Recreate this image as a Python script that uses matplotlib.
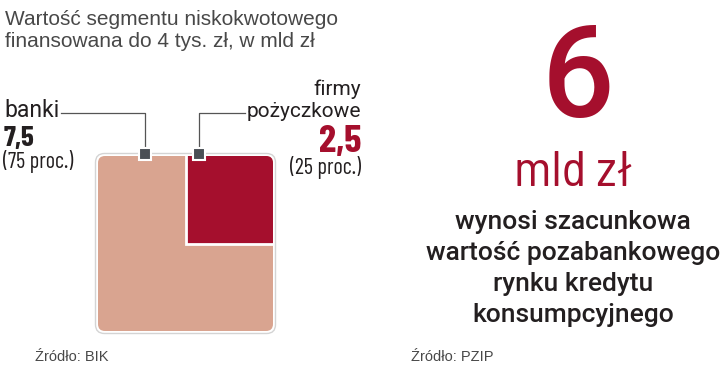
import numpy as np
import matplotlib.pyplot as plt
from matplotlib.patches import FancyBboxPatch, Rectangle
from matplotlib import font_manager

# data
labels = ['banki', 'firmy', 'pożyczkowe']
values = [7.5, 2.5]
shares = ['(75 proc.)', '(25 proc.)']
big_number = '6'
big_unit = 'mld zł'
big_caption = ['wynosi szacunkowa', 'wartość pozabankowego', 'rynku kredytu', 'konsumpcyjnego']
title = ['Wartość segmentu niskokwotowego', 'finansowana do 4 tys. zł, w mld zł']
sources = ['Źródło: BIK', 'Źródło: PZIP']

light = '#D9A490'
dark = '#A50F2D'
txt = '#231F20'
grey = '#4A4F55'

names = set(f.name for f in font_manager.fontManager.ttflist)


def pick(*cands):
    for c in cands:
        if c in names:
            return c
    return 'DejaVu Sans'


cond = pick('Barlow Condensed', 'Roboto Condensed', 'Archivo Narrow', 'Asap Condensed', 'Liberation Sans Narrow')
semi = pick('Barlow Semi Condensed', 'Barlow Condensed', 'Roboto')
plain = pick('Liberation Sans', 'DejaVu Sans')
sans = pick('Roboto', 'DejaVu Sans')

fig = plt.figure(figsize=(7.2, 3.82), dpi=100)
ax = fig.add_axes([0, 0, 1, 1])
ax.set_xlim(0, 720)
ax.set_ylim(382, 0)
ax.axis('off')

# square: area = total, inner square area = firms share
total = sum(values)
x0, y0, side = 98, 156, 175
small = side * np.sqrt(values[1] / total)

ax.add_patch(FancyBboxPatch((x0 - 2.5, y0 - 2.5), side + 5, side + 5,
                            boxstyle='round,pad=0,rounding_size=9',
                            fc='white', ec='#d4d4d4', lw=1, zorder=1))
outer = FancyBboxPatch((x0, y0), side, side, boxstyle='round,pad=0,rounding_size=7',
                       fc=light, ec='none', zorder=2)
ax.add_patch(outer)
inner = Rectangle((x0 + side - small, y0 - 5), small + 5, small + 5,
                  fc=dark, ec='white', lw=2, zorder=3)
ax.add_patch(inner)
inner.set_clip_path(outer)

# leader lines
ax.plot([145, 145, 61], [154, 113, 113], color='#555555', lw=0.9, zorder=5)
ax.plot([199, 199, 245], [154, 113, 113], color='#555555', lw=0.9, zorder=5)
for mx in [145, 199]:
    ax.add_patch(Rectangle((mx - 6, 148), 12, 12, fc=grey, ec='white', lw=1.5, zorder=6))

# title
ax.text(5, 25, title[0], ha='left', va='baseline', fontsize=15, family=plain, color='#484848')
ax.text(5, 47, title[1], ha='left', va='baseline', fontsize=15, family=plain, color='#484848')

# left labels
ax.text(4, 117, labels[0], ha='left', va='baseline', fontsize=16.5, family=sans, color=txt)
ax.text(4, 146, str(values[0]).replace('.', ','), ha='left', va='baseline', fontsize=21,
        family=cond, weight='bold', color=txt)
ax.text(3, 168, shares[0], ha='left', va='baseline', fontsize=16, family=cond, color=txt)

# right labels
ax.text(361, 95, labels[1], ha='right', va='baseline', fontsize=15, family=sans, color=txt)
ax.text(361, 117, labels[2], ha='right', va='baseline', fontsize=15, family=sans, color=txt)
ax.text(361, 152, str(values[1]).replace('.', ','), ha='right', va='baseline', fontsize=28,
        family=cond, weight='bold', color=dark)
ax.text(361, 174, shares[1], ha='right', va='baseline', fontsize=16, family=cond, color=txt)

# right panel
ax.text(578, 117, big_number, ha='center', va='baseline', fontsize=92, family=sans,
        weight='medium', color=dark)
ax.text(573, 186, big_unit, ha='center', va='baseline', fontsize=36.5, family=semi, color=dark)
ys = [229, 260, 291, 322]
for s, y in zip(big_caption, ys):
    ax.text(573, y, s, ha='center', va='baseline', fontsize=19, family=sans,
            weight='medium', color=txt)

# sources
ax.text(35, 361, sources[0], ha='left', va='baseline', fontsize=10.5, family=plain, color='#484848')
ax.text(411, 361, sources[1], ha='left', va='baseline', fontsize=10.5, family=plain, color='#484848')

fig.savefig('out.png', dpi=100, facecolor='white')
